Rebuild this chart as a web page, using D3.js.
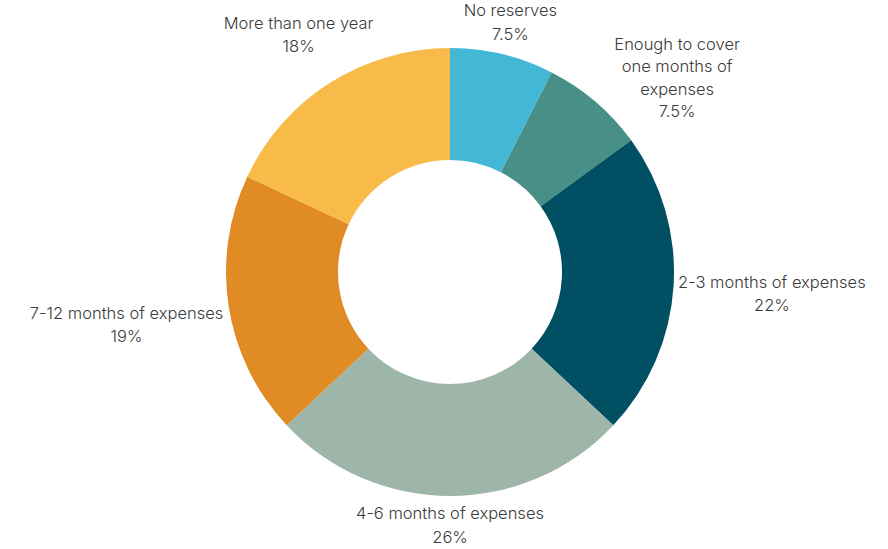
<!DOCTYPE html>
<html><head><meta charset="utf-8">
<script src="https://cdn.jsdelivr.net/npm/d3@7"></script>
<style>
html,body{margin:0;padding:0;background:#fff;}
svg{display:block;}
text{font-family:Inter,"Noto Sans",sans-serif;font-weight:300;font-size:16.5px;fill:#3a3a3a;}
</style></head>
<body>
<svg id="chart" width="888" height="549"></svg>
<script>
const categories = [
  ["No reserves"],
  ["Enough to cover", "one months of", "expenses"],
  ["2-3 months of expenses"],
  ["4-6 months of expenses"],
  ["7-12 months of expenses"],
  ["More than one year"]
];
const values = [7.5, 7.5, 22, 26, 19, 18];
const valueLabels = ["7.5%", "7.5%", "22%", "26%", "19%", "18%"];
const colors = ["#42B8D6", "#488F88", "#004F63", "#9EB5A9", "#E08B23", "#F8BB4A"];

const W = 888, H = 549;
const cx = 450, cy = 272, R = 224, r = 112;
// layout tweaks for the crowded label
const labelAngleNudge = [0, 8.7, 0, 0, 0, 0];
const labelGap = [4, -1, 4, 4, 4, 4];
const labelLineH = [23.5, 22.5, 23.5, 23.5, 23.5, 23.5];

const svg = d3.select("#chart");
const g = svg.append("g").attr("transform", `translate(${cx},${cy})`);

const pie = d3.pie().sort(null).value(d => d)(values);
const arc = d3.arc().innerRadius(r).outerRadius(R);

g.selectAll("path.slice").data(pie).enter().append("path")
  .attr("class", "slice")
  .attr("d", arc)
  .attr("fill", (d, i) => colors[i]);

pie.forEach((d, i) => {
  const lineH = labelLineH[i], gap = labelGap[i];
  const lines = categories[i].concat([valueLabels[i]]);
  const t = g.append("text").attr("text-anchor", "middle");
  lines.forEach((l, k) => {
    t.append("tspan").attr("x", 0).attr("dy", k === 0 ? 0 : lineH).text(l);
  });
  const w = t.node().getBBox().width, h = lines.length * lineH;
  const a = (d.startAngle + d.endAngle) / 2 + labelAngleNudge[i] * Math.PI / 180;
  const ux = Math.sin(a), uy = -Math.cos(a);
  let dist = R;
  for (let s = 0; s < R + 400; s += 0.5) {
    const bx = ux * s, by = uy * s;
    const nx = Math.max(bx - w / 2, Math.min(0, bx + w / 2));
    const ny = Math.max(by - h / 2, Math.min(0, by + h / 2));
    if (Math.hypot(nx, ny) >= R + gap) { dist = s; break; }
  }
  const bx = ux * dist, by = uy * dist;
  const top = by - h / 2;
  t.attr("transform", `translate(${bx},${top + 19})`);
});
</script>
</body></html>
